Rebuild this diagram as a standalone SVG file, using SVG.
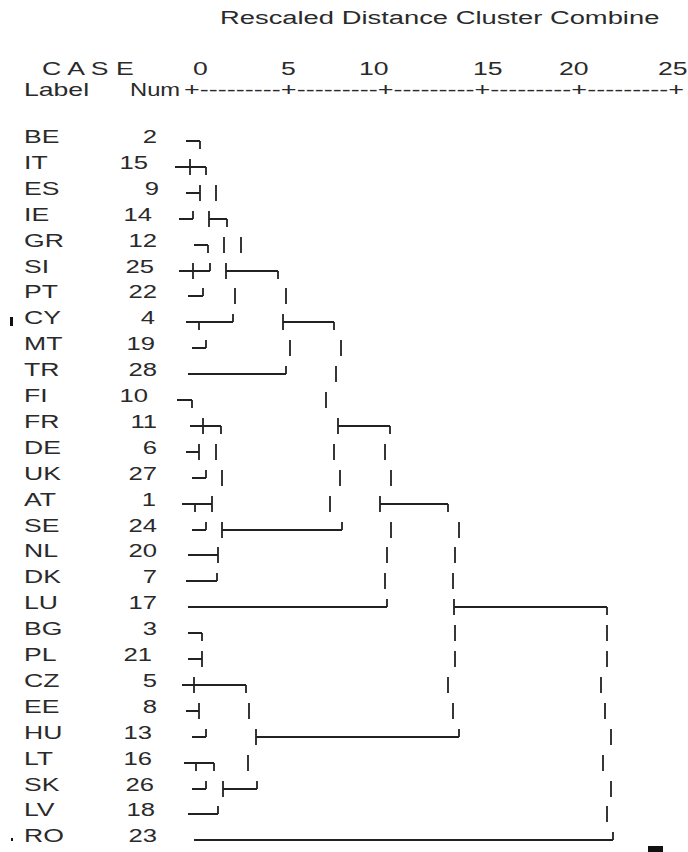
<svg xmlns="http://www.w3.org/2000/svg" width="688" height="852" viewBox="0 0 688 852">
<style>
text{font-family:"Liberation Sans",Arial,sans-serif;font-size:19px;fill:#2a2a2a}
.n{text-anchor:end}
.ln{fill:none;stroke:#222;stroke-width:1.8}
</style>
<rect width="688" height="852" fill="#fff"/>
<g id="header">
<text transform="translate(220,24) scale(1.44,1)">Rescaled Distance Cluster Combine</text>
<text transform="translate(42,75) scale(1.4,1)">C A S E</text>
<text transform="translate(193,75) scale(1.4,1)">0</text>
<text transform="translate(281,75) scale(1.4,1)">5</text>
<text transform="translate(359,75) scale(1.4,1)">10</text>
<text transform="translate(473,75) scale(1.4,1)">15</text>
<text transform="translate(559,75) scale(1.4,1)">20</text>
<text transform="translate(658,75) scale(1.4,1)">25</text>
<text transform="translate(24,96) scale(1.4,1)">Label</text>
<text transform="translate(130,96) scale(1.25,1)">Num</text>
<text x="184" y="96" textLength="500" lengthAdjust="spacingAndGlyphs">+---------+---------+---------+---------+---------+</text>
</g>
<g id="case-BE"><text transform="translate(24,143) scale(1.4,1)">BE</text><text class="n" transform="translate(157,143) scale(1.35,1)">2</text></g>
<g id="case-IT"><text transform="translate(24,169) scale(1.4,1)">IT</text><text class="n" transform="translate(148,169) scale(1.35,1)">15</text></g>
<g id="case-ES"><text transform="translate(24,195) scale(1.4,1)">ES</text><text class="n" transform="translate(159,195) scale(1.35,1)">9</text></g>
<g id="case-IE"><text transform="translate(24,221) scale(1.4,1)">IE</text><text class="n" transform="translate(152,221) scale(1.35,1)">14</text></g>
<g id="case-GR"><text transform="translate(24,247) scale(1.4,1)">GR</text><text class="n" transform="translate(157,247) scale(1.35,1)">12</text></g>
<g id="case-SI"><text transform="translate(24,273) scale(1.4,1)">SI</text><text class="n" transform="translate(154,273) scale(1.35,1)">25</text></g>
<g id="case-PT"><text transform="translate(24,298) scale(1.4,1)">PT</text><text class="n" transform="translate(157,298) scale(1.35,1)">22</text></g>
<g id="case-CY"><text transform="translate(24,324) scale(1.4,1)">CY</text><text class="n" transform="translate(155,324) scale(1.35,1)">4</text></g>
<g id="case-MT"><text transform="translate(24,350) scale(1.4,1)">MT</text><text class="n" transform="translate(155,350) scale(1.35,1)">19</text></g>
<g id="case-TR"><text transform="translate(24,376) scale(1.4,1)">TR</text><text class="n" transform="translate(157,376) scale(1.35,1)">28</text></g>
<g id="case-FI"><text transform="translate(24,402) scale(1.4,1)">FI</text><text class="n" transform="translate(148,402) scale(1.35,1)">10</text></g>
<g id="case-FR"><text transform="translate(24,428) scale(1.4,1)">FR</text><text class="n" transform="translate(157,428) scale(1.35,1)">11</text></g>
<g id="case-DE"><text transform="translate(24,454) scale(1.4,1)">DE</text><text class="n" transform="translate(157,454) scale(1.35,1)">6</text></g>
<g id="case-UK"><text transform="translate(24,480) scale(1.4,1)">UK</text><text class="n" transform="translate(157,480) scale(1.35,1)">27</text></g>
<g id="case-AT"><text transform="translate(24,506) scale(1.4,1)">AT</text><text class="n" transform="translate(156,506) scale(1.35,1)">1</text></g>
<g id="case-SE"><text transform="translate(24,532) scale(1.4,1)">SE</text><text class="n" transform="translate(157,532) scale(1.35,1)">24</text></g>
<g id="case-NL"><text transform="translate(24,557) scale(1.4,1)">NL</text><text class="n" transform="translate(157,557) scale(1.35,1)">20</text></g>
<g id="case-DK"><text transform="translate(24,583) scale(1.4,1)">DK</text><text class="n" transform="translate(157,583) scale(1.35,1)">7</text></g>
<g id="case-LU"><text transform="translate(24,609) scale(1.4,1)">LU</text><text class="n" transform="translate(157,609) scale(1.35,1)">17</text></g>
<g id="case-BG"><text transform="translate(24,635) scale(1.4,1)">BG</text><text class="n" transform="translate(157,635) scale(1.35,1)">3</text></g>
<g id="case-PL"><text transform="translate(24,661) scale(1.4,1)">PL</text><text class="n" transform="translate(152,661) scale(1.35,1)">21</text></g>
<g id="case-CZ"><text transform="translate(24,687) scale(1.4,1)">CZ</text><text class="n" transform="translate(157,687) scale(1.35,1)">5</text></g>
<g id="case-EE"><text transform="translate(24,713) scale(1.4,1)">EE</text><text class="n" transform="translate(157,713) scale(1.35,1)">8</text></g>
<g id="case-HU"><text transform="translate(24,739) scale(1.4,1)">HU</text><text class="n" transform="translate(152,739) scale(1.35,1)">13</text></g>
<g id="case-LT"><text transform="translate(24,765) scale(1.4,1)">LT</text><text class="n" transform="translate(152,765) scale(1.35,1)">16</text></g>
<g id="case-SK"><text transform="translate(24,791) scale(1.4,1)">SK</text><text class="n" transform="translate(154,791) scale(1.35,1)">26</text></g>
<g id="case-LV"><text transform="translate(24,816) scale(1.4,1)">LV</text><text class="n" transform="translate(155,816) scale(1.35,1)">18</text></g>
<g id="case-RO"><text transform="translate(24,842) scale(1.4,1)">RO</text><text class="n" transform="translate(157,842) scale(1.35,1)">23</text></g>
<g id="connectors" class="ln">
<path d="M186 141H200M200 141V149"/>
<path d="M175 167H206M190 159V175M206 167V175"/>
<path d="M186 193H200M200 185V201M216 185V201"/>
<path d="M179 219H193M193 211V219M209 211V227M209 219H227M227 219V227"/>
<path d="M194 245H208M208 245V253M224 237V253M241 237V253"/>
<path d="M179 271H210M193 263V279M210 263V271M226 263V279M226 271H278M278 271V279"/>
<path d="M188 296H203M203 288V296M235 288V304M286 288V304"/>
<path d="M186 322H233M199 322V330M233 314V322M283 314V330M283 322H334M334 322V330"/>
<path d="M192 348H206M206 340V348M290 340V356M341 340V356"/>
<path d="M188 374H286M286 366V374M336 366V382"/>
<path d="M177 400H192M192 400V408M326 392V408"/>
<path d="M190 426H221M203 418V434M221 426V434M338 418V434M338 426H390M390 426V434"/>
<path d="M186 452H199M199 444V460M216 444V460M334 444V460M385 444V460"/>
<path d="M192 478H206M206 470V478M222 470V486M340 470V486M391 470V486"/>
<path d="M182 504H212M195 504V512M212 496V512M330 496V512M380 496V512M380 504H448M448 504V512"/>
<path d="M192 530H206M206 522V530M222 522V538M222 530H342M342 522V530M391 522V538M459 522V538"/>
<path d="M188 555H218M218 547V563M387 547V563M455 547V563"/>
<path d="M186 581H217M217 573V581M385 573V589M453 573V589"/>
<path d="M188 607H387M387 599V607M454 599V615M454 607H607M607 607V615"/>
<path d="M188 633H202M202 633V641M455 625V641M607 625V641"/>
<path d="M188 659H202M202 651V667M455 651V667M607 651V667"/>
<path d="M182 685H246M194 677V693M246 685V693M448 677V693M601 677V693"/>
<path d="M186 711H199M199 703V719M249 703V719M453 703V719M605 703V719"/>
<path d="M192 737H206M206 729V737M256 729V745M256 737H459M459 729V737M611 729V745"/>
<path d="M184 763H214M196 763V771M214 763V771M248 755V771M603 755V771"/>
<path d="M192 789H206M206 781V789M223 781V797M223 789H257M257 781V789M611 781V797"/>
<path d="M188 814H218M218 806V814M607 806V822"/>
<path d="M194 840H613M613 832V840"/>
</g>
<g id="marks" fill="#111">
<rect x="10" y="317" width="3" height="9"/>
<rect x="11" y="838" width="2" height="3"/>
<rect x="648" y="846" width="15" height="6"/>
</g>
</svg>
